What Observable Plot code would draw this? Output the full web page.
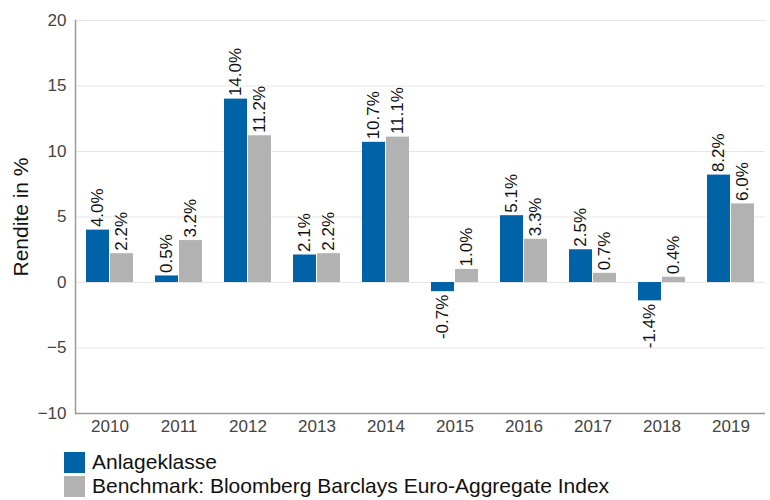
<!DOCTYPE html>
<html>
<head>
<meta charset="utf-8">
<script src="https://cdn.jsdelivr.net/npm/d3@7"></script>
<script src="https://cdn.jsdelivr.net/npm/@observablehq/plot@0.6"></script>
<style>
  body { margin: 0; background: #fff; font-family: "Liberation Sans", Arial, sans-serif; }
  #legend { margin: 5px 0 0 64px; }
  .item { display: flex; align-items: center; height: 24px; font-size: 21px; color: #111; }
  .sw { width: 21px; height: 21px; margin-right: 7px; flex: none; }
</style>
</head>
<body>
<div id="chart"></div>
<div id="legend"></div>
<script>
const years = ["2010","2011","2012","2013","2014","2015","2016","2017","2018","2019"];
const seriesNames = ["Anlageklasse", "Benchmark: Bloomberg Barclays Euro-Aggregate Index"];
const anlageklasse = [4.0, 0.5, 14.0, 2.1, 10.7, -0.7, 5.1, 2.5, -1.4, 8.2];
const benchmark = [2.2, 3.2, 11.2, 2.2, 11.1, 1.0, 3.3, 0.7, 0.4, 6.0];
const colors = ["#0063a7", "#b2b2b2"];
const yTicks = [-10, -5, 0, 5, 10, 15, 20];
const gridTicks = [-5, 0, 5, 10, 15, 20];
const yLabel = "Rendite in %";

const data = [];
years.forEach((y, i) => {
  data.push({year: y, series: seriesNames[0], value: anlageklasse[i]});
  data.push({year: y, series: seriesNames[1], value: benchmark[i]});
});
const fmt = d => d.value.toFixed(1) + "%";

const chart = Plot.plot({
  width: 770,
  height: 445,
  marginLeft: 72,
  marginRight: 2,
  marginTop: 20,
  marginBottom: 32,
  style: {fontFamily: "'Liberation Sans', Arial, sans-serif", background: "#fff"},
  fx: {domain: years, padding: 0, label: null},
  x: {domain: seriesNames, axis: null, paddingInner: 0.04, paddingOuter: 0.42},
  y: {domain: [-10, 20]},
  color: {domain: seriesNames, range: colors},
  marks: [
    Plot.ruleY(gridTicks, {stroke: "#e6e6e6", strokeWidth: 1}),
    Plot.barY(data, {fx: "year", x: "series", y: "value", fill: "series"}),
    Plot.text(data.filter(d => d.value >= 0), {
      fx: "year", x: "series", y: "value", text: fmt,
      rotate: -90, textAnchor: "start", dy: -3, fontSize: 17, fill: "#111"
    }),
    Plot.text(data.filter(d => d.value < 0), {
      fx: "year", x: "series", y: "value", text: fmt,
      rotate: -90, textAnchor: "end", dy: 3, fontSize: 17, fill: "#111"
    }),
    Plot.ruleY([-10], {stroke: "#9a9a9a", strokeWidth: 1.5}),
    Plot.frame({anchor: "left", facetAnchor: "left", stroke: "#9a9a9a", strokeWidth: 1.5}),
    Plot.axisY({ticks: yTicks, tickSize: 0, tickPadding: 9, fontSize: 17, color: "#444", label: null}),
    Plot.axisY({ticks: [], tickSize: 0, fontSize: 21, color: "#111",
      label: yLabel, labelAnchor: "center", labelArrow: "none", labelOffset: 62}),
    Plot.axisFx({anchor: "bottom", tickSize: 0, tickPadding: 6, fontSize: 17, color: "#444", label: null})
  ]
});
document.getElementById("chart").appendChild(chart);

const legend = document.getElementById("legend");
seriesNames.forEach((s, i) => {
  const row = document.createElement("div");
  row.className = "item";
  const sw = document.createElement("span");
  sw.className = "sw";
  sw.style.background = colors[i];
  const t = document.createElement("span");
  t.textContent = s;
  row.appendChild(sw);
  row.appendChild(t);
  legend.appendChild(row);
});
</script>
</body>
</html>
